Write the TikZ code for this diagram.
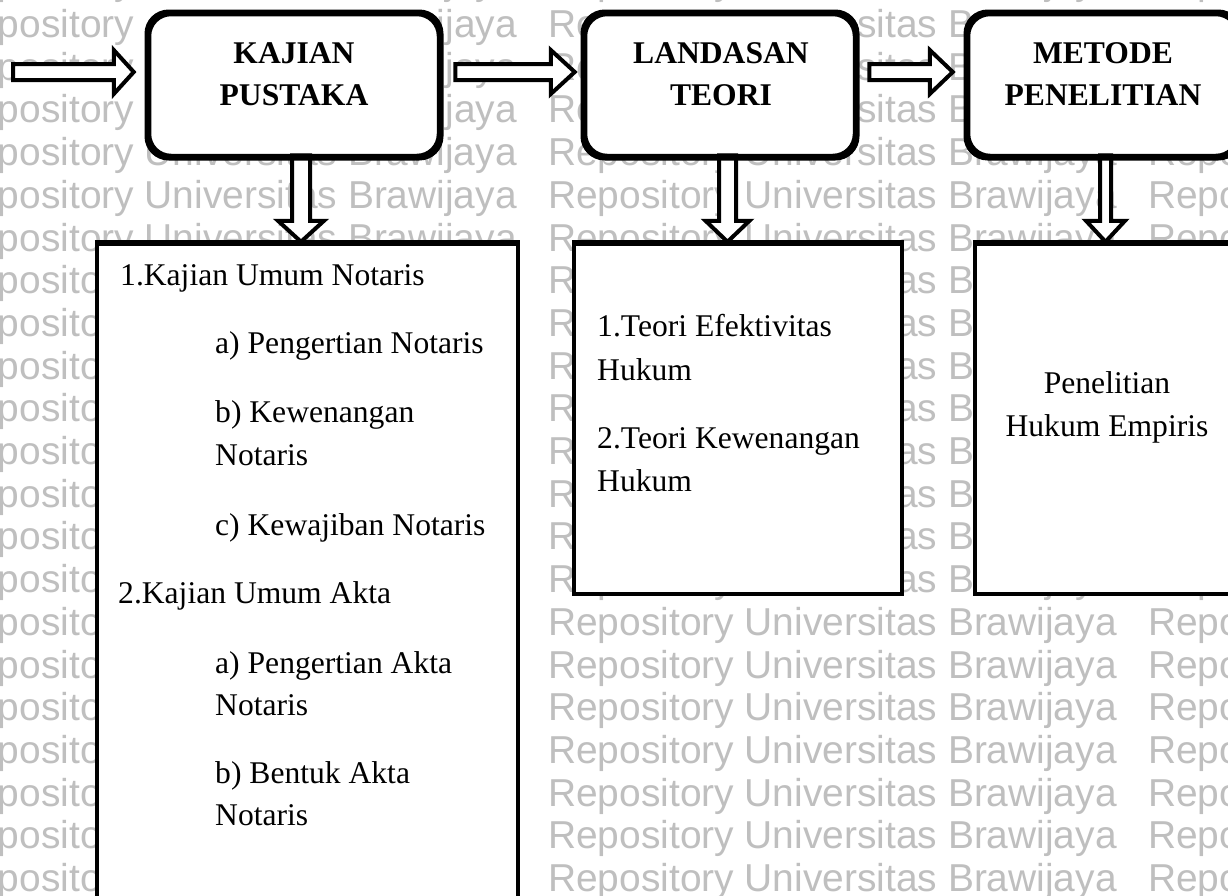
\documentclass[tikz,border=0pt]{standalone}
\usepackage{fontspec}
\setmainfont{Liberation Serif}
\newfontfamily\wmfont{Liberation Sans}
\usetikzlibrary{calc}
\tikzset{
  rbox/.style={draw, line width=4.5pt, rounded corners=22pt, fill=white,
    minimum height=142pt, inner sep=0pt},
  sbox/.style={draw, line width=4.5pt, fill=white, inner sep=0pt},
  blk/.style={draw, line width=4pt, fill=white, line join=miter},
  body/.style={font=\fontsize{31.6}{43}\selectfont, inner sep=0pt},
  ttl/.style={font=\fontsize{31.6}{42}\selectfont\bfseries, inner sep=0pt, anchor=base},
  wm/.style={font=\wmfont\fontsize{38.9}{43}\selectfont, text=black!25, inner sep=0pt, anchor=base west},
}
% right-pointing block arrow: start, tip, shaft half, head half, head length
\newcommand\rblockarrow[5]{%
  \draw[blk] let \p1=(#1), \p2=(#2) in
    (\x1,\y1+#3) -- (\x2-#5,\y1+#3) -- (\x2-#5,\y1+#4) -- (\x2,\y1)
    -- (\x2-#5,\y1-#4) -- (\x2-#5,\y1-#3) -- (\x1,\y1-#3) -- cycle;}
% down-pointing block arrow: start, target, shaft half, head half, head length
\newcommand\dblockarrow[5]{%
  \draw[blk] let \p1=(#1), \p2=(#2) in
    (\x1-#3,\y1) -- (\x1-#3,\y2+#5) -- (\x1-#4,\y2+#5) -- (\x1,\y2)
    -- (\x1+#4,\y2+#5) -- (\x1+#3,\y2+#5) -- (\x1+#3,\y1) -- cycle;}
\newcommand\wmrow[3]{\node[wm] (wm#1c#2) at ({-52+600*#2},{37.5+42.7*#1}) {#3};}
\begin{document}
\begin{tikzpicture}[x=1pt,y=-1pt]
\useasboundingbox (0,0) rectangle (1228,895);
\clip (0,0) rectangle (1228,895);
\fill[white] (0,0) rectangle (1228,895);

% watermark (only the parts that are not hidden by the boxes)
\foreach \r in {-1,3,4,5}{
  \wmrow{\r}{0}{\phantom{Re}pository Universitas Brawijaya}
  \wmrow{\r}{1}{Repository Universitas Brawijaya}
  \wmrow{\r}{2}{Repo}
}
\foreach \r in {0,1,2}{
  \wmrow{\r}{0}{\phantom{Re}pository\phantom{ Universitas Braw}ijaya}
  \wmrow{\r}{1}{Re\phantom{pository Univer}sitas B}
}
\foreach \r in {6,...,12}{
  \wmrow{\r}{0}{\phantom{Re}posito}
  \wmrow{\r}{1}{R\phantom{epository Universit}as Br}
}
\foreach \r in {13,...,20}{
  \wmrow{\r}{0}{\phantom{Re}posito}
  \wmrow{\r}{1}{Repository Universitas Brawijaya}
  \wmrow{\r}{2}{Repo}
}

% boxes
\path (294,85) node[rbox, minimum width=290pt] (k1) {};
\path (720,85) node[rbox, minimum width=270pt] (k2) {};
\path (1103,85) node[rbox, minimum width=270pt] (k3) {};

\path (307.5,582) node[sbox, minimum width=421pt, minimum height=676pt] (b1) {};
\path (738,419) node[sbox, minimum width=328pt, minimum height=350pt] (b2) {};
\path (1112.5,419) node[sbox, minimum width=275pt, minimum height=350pt] (b3) {};

% block arrows
\coordinate (in0) at (13,72);
\rblockarrow{in0}{$(k1.west)+(-13,-13)$}{8pt}{22pt}{20pt}
\rblockarrow{$(k1.east)+(14,-13)$}{$(k2.west)+(-8,-13)$}{8pt}{22pt}{24pt}
\rblockarrow{$(k2.east)+(12,-13)$}{$(k3.west)+(-13,-13)$}{8pt}{22pt}{23pt}

\dblockarrow{$(k1.south)+(7,-3)$}{b1.north}{9pt}{23pt}{21pt}
\dblockarrow{$(k2.south)+(7.5,-3)$}{b2.north}{8.5pt}{22pt}{21pt}
\dblockarrow{$(k3.south)+(2.5,-3)$}{b3.north}{5.5pt}{19.5pt}{21pt}

% redraw box edges over the arrow ends
\draw[line width=4.5pt, rounded corners=22pt] (k1.north west) rectangle (k1.south east);
\draw[line width=4.5pt, rounded corners=22pt] (k2.north west) rectangle (k2.south east);
\draw[line width=4.5pt, rounded corners=22pt] (k3.north west) rectangle (k3.south east);
\draw[line width=4.5pt] (b1.north west) -- (b1.north east);
\draw[line width=4.5pt] (b2.north west) -- (b2.north east);
\draw[line width=4.5pt] (b3.north west) -- (b3.north east);

% titles
\node[ttl] (t1a) at (294,63) {KAJIAN};
\node[ttl] (t1b) at (294,105) {PUSTAKA};
\node[ttl] (t2a) at (721,63) {LANDASAN};
\node[ttl] (t2b) at (721,105) {TEORI};
\node[ttl] (t3a) at (1103,63) {METODE};
\node[ttl] (t3b) at (1103,105) {PENELITIAN};

% box 1 contents
\node[body, anchor=base west] (p1) at (120,285) {1.Kajian Umum Notaris};
\node[body, anchor=base west] (p1a) at (215,353) {a) Pengertian Notaris};
\node[body, anchor=base west] (p1b) at (215,422) {b) Kewenangan};
\node[body, anchor=base west] (p1b2) at (215,465) {Notaris};
\node[body, anchor=base west] (p1c) at (215,535) {c) Kewajiban Notaris};
\node[body, anchor=base west] (p2) at (118,603) {2.Kajian Umum Akta};
\node[body, anchor=base west] (p2a) at (215,673) {a) Pengertian Akta};
\node[body, anchor=base west] (p2a2) at (215,715) {Notaris};
\node[body, anchor=base west] (p2b) at (215,783) {b) Bentuk Akta};
\node[body, anchor=base west] (p2b2) at (215,825) {Notaris};

% box 2 contents
\node[body, anchor=base west] (q1) at (597,336) {1.Teori Efektivitas};
\node[body, anchor=base west] (q1b) at (597,380) {Hukum};
\node[body, anchor=base west] (q2) at (597,448) {2.Teori Kewenangan};
\node[body, anchor=base west] (q2b) at (597,491) {Hukum};

% box 3 contents
\node[body, anchor=base] (r1) at (1107,393) {Penelitian};
\node[body, anchor=base] (r2) at (1107,436) {Hukum Empiris};
\end{tikzpicture}
\end{document}
